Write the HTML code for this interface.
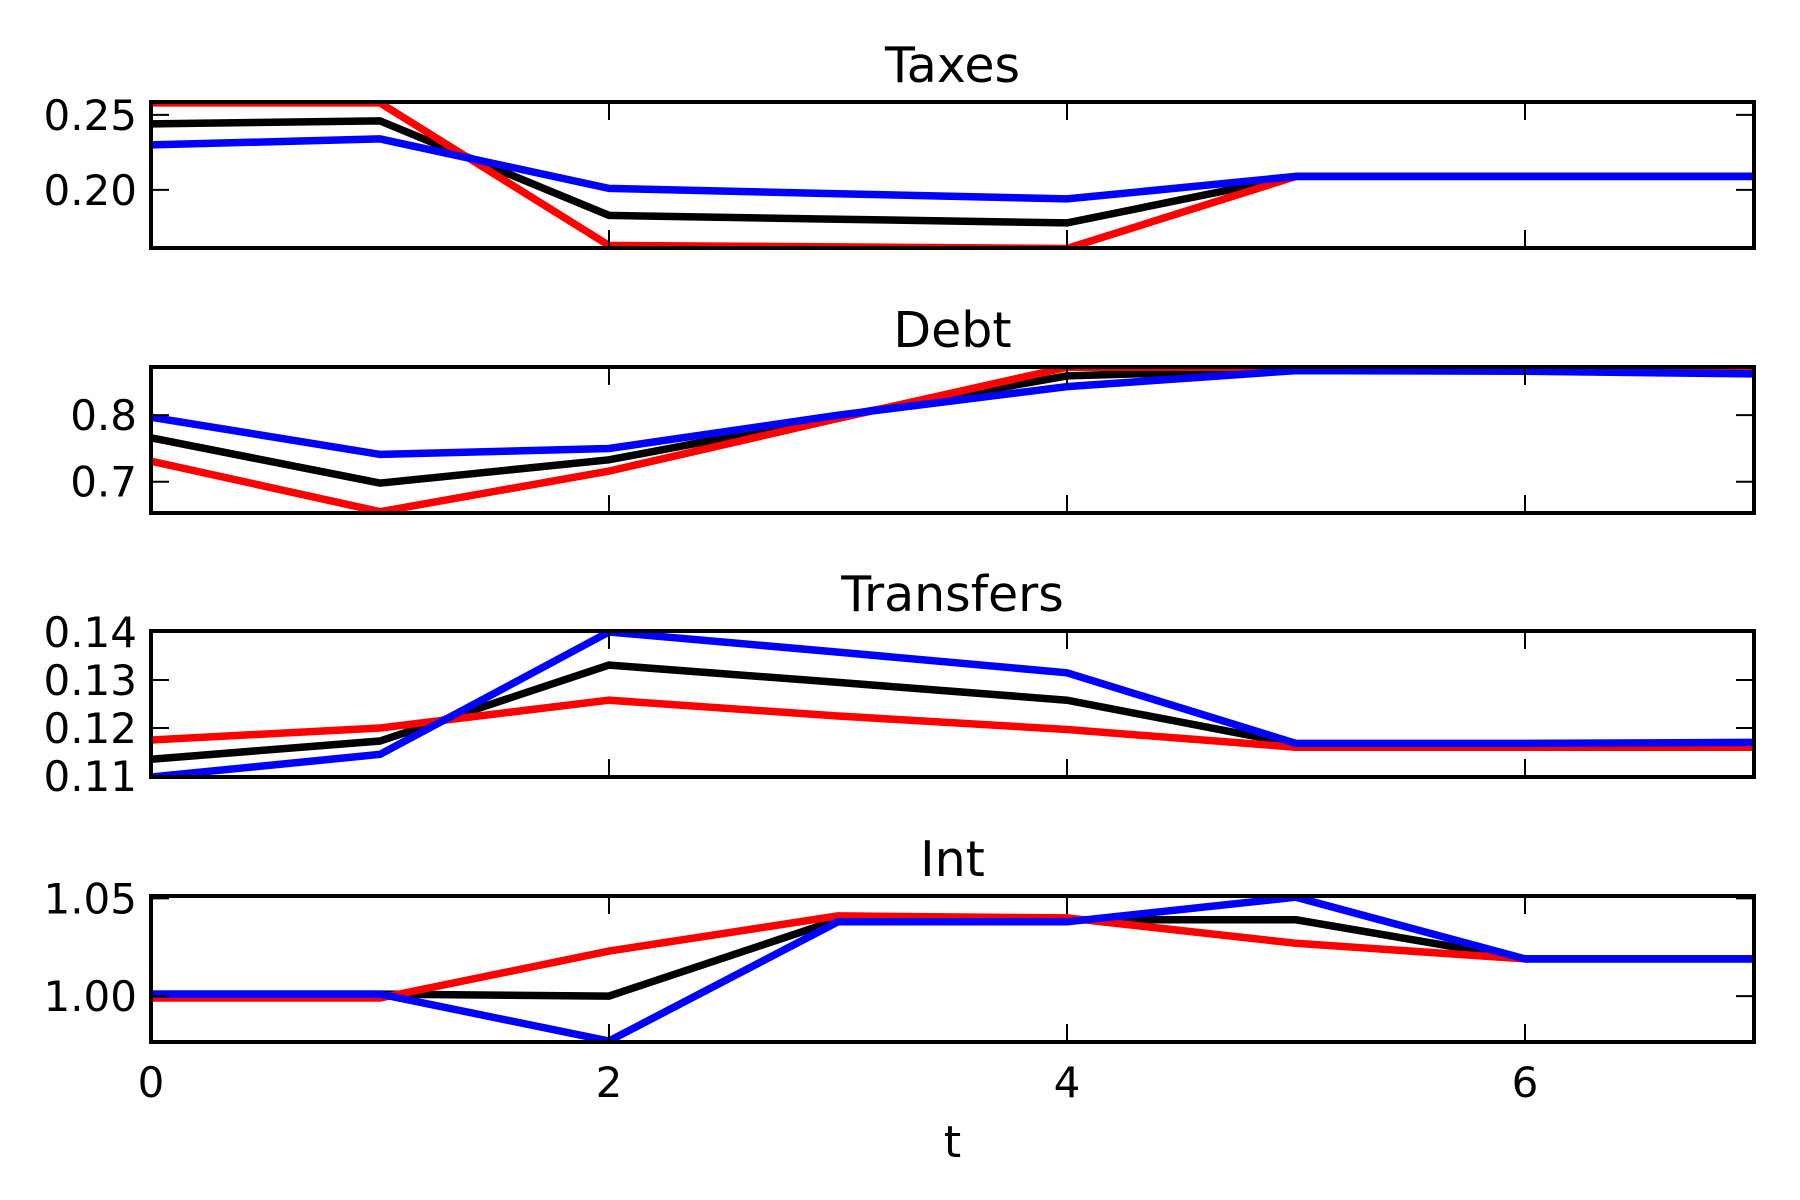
<!DOCTYPE html>
<html><head><meta charset="utf-8"><style>
html,body{margin:0;padding:0;background:#fff;}
svg{display:block;}
text{font-family:"DejaVu Sans","Liberation Sans",sans-serif;fill:#000;}
</style></head><body>
<svg id="chart" width="1800" height="1200" xmlns="http://www.w3.org/2000/svg"></svg>
<script>
const tValues = [0,1,2,3,4,5,6,7];
const xTicks = [0,2,4,6];
const panelTitles = ["Taxes","Debt","Transfers","Int"];
const taxesRed   = [0.258,0.258,0.163,0.162,0.161,0.209,0.209,0.209];
const taxesBlack = [0.244,0.246,0.183,0.1805,0.178,0.209,0.209,0.209];
const taxesBlue  = [0.230,0.234,0.201,0.1975,0.194,0.209,0.209,0.209];
const debtRed   = [0.731,0.655,0.716,0.795,0.872,0.872,0.872,0.872];
const debtBlack = [0.766,0.698,0.733,0.798,0.859,0.869,0.869,0.869];
const debtBlue  = [0.797,0.741,0.750,0.800,0.843,0.867,0.866,0.862];
const transRed   = [0.1175,0.120,0.1258,0.1225,0.1197,0.116,0.116,0.116];
const transBlack = [0.1135,0.1173,0.1331,0.1295,0.1258,0.1166,0.1166,0.1166];
const transBlue  = [0.1098,0.1145,0.140,0.1358,0.1315,0.1168,0.1168,0.117];
const intRed   = [0.999,0.999,1.023,1.041,1.040,1.027,1.019,1.019];
const intBlack = [1.001,1.001,1.000,1.039,1.039,1.039,1.019,1.019];
const intBlue  = [1.001,1.001,0.977,1.038,1.038,1.0506,1.019,1.019];
const taxesTicks = [0.20,0.25];
const debtTicks = [0.7,0.8];
const transTicks = [0.11,0.12,0.13,0.14];
const intTicks = [1.00,1.05];
const taxesTickLabels = ["0.20","0.25"];
const debtTickLabels = ["0.7","0.8"];
const transTickLabels = ["0.11","0.12","0.13","0.14"];
const intTickLabels = ["1.00","1.05"];

const NS="http://www.w3.org/2000/svg";
const svg=document.getElementById('chart');
const L=151,R=1754,H=146;
const tops=[102,367,631,896];
const panels=[
 {ylim:[0.1613,0.2586],ticks:taxesTicks,labels:taxesTickLabels,series:[taxesBlack,taxesRed,taxesBlue]},
 {ylim:[0.653,0.8724],ticks:debtTicks,labels:debtTickLabels,series:[debtBlack,debtRed,debtBlue]},
 {ylim:[0.1098,0.1402],ticks:transTicks,labels:transTickLabels,series:[transBlack,transRed,transBlue]},
 {ylim:[0.9765,1.0512],ticks:intTicks,labels:intTickLabels,series:[intBlack,intRed,intBlue]}
];
const colors=["#000000","#ff0000","#0000ff"];
const snames=["black","red","blue"];
function xs(t){return L+(t-0)/(7-0)*(R-L);}
function mk(tag,attrs){const e=document.createElementNS(NS,tag);for(const k in attrs)e.setAttribute(k,attrs[k]);return e;}
panels.forEach((p,i)=>{
  const top=tops[i],bot=top+H;
  const ys=v=>bot-(v-p.ylim[0])/(p.ylim[1]-p.ylim[0])*H;
  const g=mk('g',{});
  
  
  svg.appendChild(g);
  const cp=mk('clipPath',{id:'clip'+i});
  cp.appendChild(mk('rect',{x:L,y:top,width:R-L,height:H}));
  g.appendChild(cp);
  p.series.forEach((s,j)=>{
    const pts=s.map((v,k)=>xs(tValues[k]).toFixed(1)+','+ys(v).toFixed(1)).join(' ');
    const pl=mk('polyline',{points:pts,fill:'none',stroke:colors[j],'stroke-width':7.5,'stroke-linejoin':'miter','clip-path':'url(#clip'+i+')'});
    
    
    g.appendChild(pl);
  });
  xTicks.forEach(t=>{
    const x=xs(t);
    const a=mk('line',{x1:x,x2:x,y1:bot,y2:bot-18,stroke:'#000','stroke-width':2});
    
    
    g.appendChild(a);
    const b=mk('line',{x1:x,x2:x,y1:top,y2:top+18,stroke:'#000','stroke-width':2});
    
    
    g.appendChild(b);
  });
  p.ticks.forEach((v,k)=>{
    const y=ys(v);
    const a=mk('line',{x1:L,x2:L+18,y1:y,y2:y,stroke:'#000','stroke-width':2});
    
    
    g.appendChild(a);
    const b=mk('line',{x1:R,x2:R-18,y1:y,y2:y,stroke:'#000','stroke-width':2});
    
    
    g.appendChild(b);
    const tx=mk('text',{x:L-14,y:y+15,'text-anchor':'end','font-size':42});
    tx.textContent=p.labels[k];
    
    
    g.appendChild(tx);
  });
  const fr=mk('rect',{x:L,y:top,width:R-L,height:H,fill:'none',stroke:'#000','stroke-width':4});
  
  
  g.appendChild(fr);
  const ti=mk('text',{x:(L+R)/2,y:top-20,'text-anchor':'middle','font-size':49});
  ti.textContent=panelTitles[i];
  
  
  g.appendChild(ti);
});
const bot=tops[3]+H;
xTicks.forEach(t=>{
  const tx=mk('text',{x:xs(t),y:bot+55,'text-anchor':'middle','font-size':42});
  tx.textContent=String(t);
  
  
  svg.appendChild(tx);
});
const xl=mk('text',{x:(L+R)/2,y:bot+115,'text-anchor':'middle','font-size':44});
xl.textContent='t';


svg.appendChild(xl);
</script>
</body></html>
